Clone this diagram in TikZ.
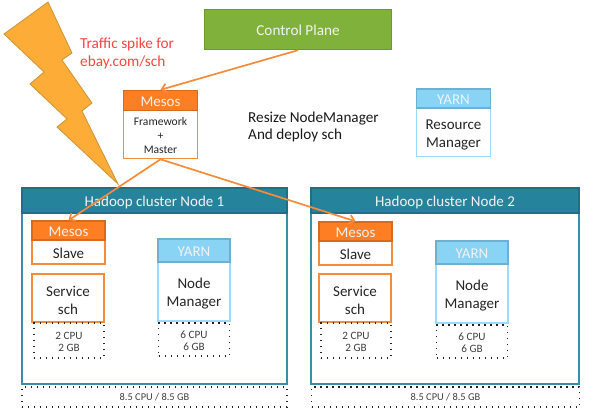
\documentclass[tikz,border=0pt]{standalone}
\usepackage{fontspec}
\usetikzlibrary{arrows.meta}
\setmainfont{Carlito}
\definecolor{planegreen}{HTML}{80B13A}
\definecolor{planeedge}{HTML}{6C9A31}
\definecolor{boltfill}{HTML}{FCAC37}
\definecolor{boltedge}{HTML}{C9963A}
\definecolor{mesosfill}{HTML}{FD7E23}
\definecolor{mesosedge}{HTML}{D96A1C}
\definecolor{mesosline}{HTML}{F68B3A}
\definecolor{yarnfill}{HTML}{89D3F5}
\definecolor{yarnedge}{HTML}{6FAFCF}
\definecolor{yarnline}{HTML}{9ADCF9}
\definecolor{hadoopfill}{HTML}{26839C}
\definecolor{hadoopline}{HTML}{3A8FA6}
\definecolor{spikered}{HTML}{FF4444}
% a tall first line pushes the text of a node down
\newcommand{\sunk}[1]{\rule{0pt}{#1}}
\begin{document}
\begin{tikzpicture}[x=1pt,y=-1pt,inner sep=0pt]
\tikzstyle{head}=[draw,line width=1.4pt,font=\fontsize{15}{15}\selectfont,text=white!95!black]
\tikzstyle{mesos head}=[head,fill=mesosfill,draw=mesosedge]
\tikzstyle{yarn head}=[head,fill=yarnfill,draw=yarnedge]
\tikzstyle{hadoop head}=[head,fill=hadoopfill,draw=hadoopfill!85!black]
\tikzstyle{mesos box}=[draw=mesosline,fill=white,line width=1.6pt,align=center,font=\fontsize{15}{18}\selectfont,text=black!85]
\tikzstyle{yarn box}=[draw=yarnline,fill=white,line width=1.6pt,align=center,font=\fontsize{15}{18}\selectfont,text=black!85]
\tikzstyle{hadoop box}=[draw=hadoopline,fill=white,line width=1.5pt]
\tikzstyle{quota}=[draw=black!85,line width=1.4pt,dash pattern=on 1.4pt off 4.6pt,align=center,text=black!75,font=\fontsize{11.2}{12}\selectfont]
\tikzstyle{push}=[-{Straight Barb[length=5pt,width=9pt]},draw=mesosline,line width=1.7pt]
\useasboundingbox (0,0) rectangle (600,410);

% Draw the traffic bolt
\draw[fill=boltfill,draw=boltedge,line width=0.8pt] (48,2) -- (72,53) -- (62,60) -- (92,103) -- (82,111)
  -- (118,184) -- (57,127) -- (67,119) -- (30,84) -- (44,72) -- (4,34) -- cycle;
\node[text=spikered,align=left,anchor=north west,font=\fontsize{15.3}{18}\selectfont] (spike) at (80,37.5) {Traffic spike for\\ebay.com/sch};

% Draw the control plane
\node[draw=planeedge,fill=planegreen,line width=1.4pt,text=white!95!black,minimum width=187pt,minimum height=40pt,font=\fontsize{15.2}{15}\selectfont] (plane) at (298,29.5) {\sunk{13pt}Control Plane};

% Draw the mesos master
\node[mesos box,minimum width=74pt,minimum height=48pt,font=\fontsize{11.6}{14}\selectfont] (master) at (160.5,134.5) {\sunk{10.5pt}Framework\\+\\Master};
\node[mesos head,minimum width=74pt,minimum height=20pt] (masterhead) at (160.5,100.5) {\sunk{12.6pt}Mesos};

\node[align=left,anchor=north west,text=black!90,font=\fontsize{15.2}{17.5}\selectfont] (resize) at (248,111.5) {Resize NodeManager\\And deploy sch};

% Draw the yarn resource manager
\node[yarn box,minimum width=74pt,minimum height=48pt] (resource) at (453.5,132.5) {\sunk{14.5pt}Resource\\Manager};
\node[yarn head,minimum width=74pt,minimum height=19pt] (resourcehead) at (453.5,98.5) {\sunk{11.6pt}YARN};

% Draw both cluster nodes
% (x offset of cluster, width, number, x of mesos, x of yarn, y of mesos, y of yarn)
\foreach \cx / \cw / \num / \mx / \yx / \my / \yy in {154.5/265/1/68/194/0/0, 445/268/2/355/472/1/2}{
  \node[hadoop box,minimum width=\cw pt,minimum height=196pt] (cluster-\num) at (\cx,286) {};
  \node[hadoop head,minimum width=\cw pt,minimum height=25pt] (clusterhead-\num) at (\cx,200.5) {\sunk{15pt}Hadoop cluster Node \num};
  \node[quota,minimum width=\cw pt,minimum height=20pt,font=\fontsize{10.4}{12}\selectfont] (total-\num) at (\cx+0.5*\num-0.5,397) {8.5 CPU / 8.5 GB};

  \node[mesos box,minimum width=73pt,minimum height=24pt] (slave-\num) at (\mx+0.5,252+\my) {\sunk{14pt}Slave};
  \node[mesos head,minimum width=73pt,minimum height=19pt] (slavehead-\num) at (\mx+0.5,230.5+\my) {\sunk{12.6pt}Mesos};
  \node[mesos box,minimum width=72pt,minimum height=48pt] (service-\num) at (\mx,298) {\sunk{14.5pt}Service\\sch};
  \node[quota,minimum width=70pt,minimum height=35pt] (servicequota-\num) at (\mx+1,340.5) {\sunk{11pt}2 CPU\\2 GB};

  \node[yarn box,minimum width=72pt,minimum height=59pt] (manager-\num) at (\yx,291.5+\yy) {\sunk{14pt}Node\\Manager};
  \node[yarn head,minimum width=72pt,minimum height=23pt] (managerhead-\num) at (\yx,250.5+\yy) {\sunk{11.6pt}YARN};
  \node[quota,minimum width=71pt,minimum height=33pt] (managerquota-\num) at (\yx,339.5+\yy) {\sunk{9.5pt}6 CPU\\6 GB};
}

% Connect the plane with the master and the master with the slaves
\draw[push] (plane.south) -- (masterhead.north);
\draw[push] (master.south) -- (slavehead-1.north);
\draw[push] (master.south) -- (slavehead-2.north);
\end{tikzpicture}
\end{document}
